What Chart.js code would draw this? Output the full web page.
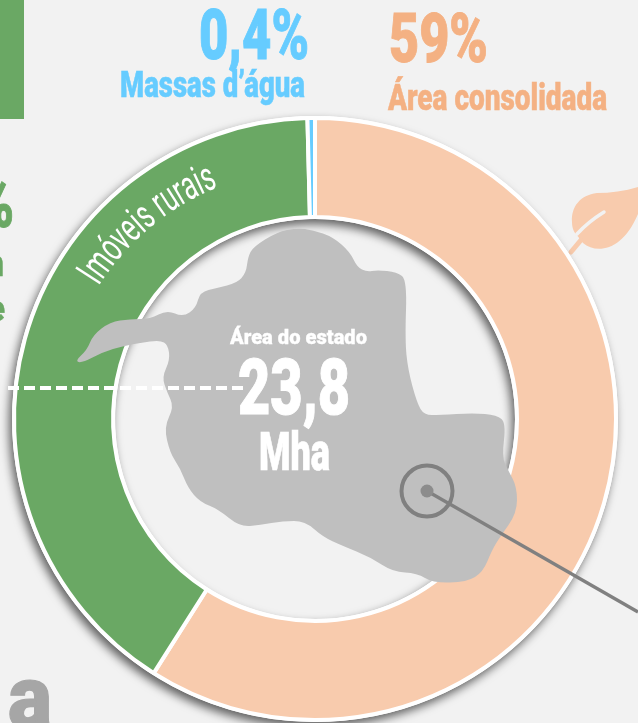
<!DOCTYPE html>
<html lang="pt">
<head>
<meta charset="utf-8">
<title>Área do estado</title>
<script src="https://cdn.jsdelivr.net/npm/chart.js@4/dist/chart.umd.min.js"></script>
<style>
    html, body { margin: 0; padding: 0; background: #f2f2f2; overflow: hidden; }
    #wrap { position: relative; width: 638px; height: 723px; overflow: hidden; }
    #chart, #labels { position: absolute; left: 0; top: 0; }
    text { font-family: Roboto, "Liberation Sans", sans-serif; font-weight: 900; }
</style>
</head>
<body>
<div id="wrap">
    <canvas id="chart" width="638" height="723"></canvas>
    <svg id="labels" width="638" height="723" xmlns="http://www.w3.org/2000/svg"></svg>
</div>
<script>
// data
const categories = ['Área consolidada', 'Imóveis rurais', 'Massas d’água'];
const shares = [59, 40.6, 0.4];
const shareLabels = ['59%', '41%', '0,4%'];
const stateLabel = 'Área do estado';
const stateArea = '23,8';
const stateUnit = 'Mha';

const BG = '#f2f2f2';
const ORANGE = '#f8cbad';
const ORANGE_TEXT = '#f4b183';
const GREEN = '#6aa864';
const BLUE = '#66ccff';

// outline of the state (decoration, not data)
const MAP_OUTLINE = [
    [75,361],[82,363],[103,352],[123,346],[140,343],[160,340],[168,345],[170,360],[162,377],[167,392],
    [174,407],[164,427],[170,453],[180,468],[188,488],[200,502],[218,509],[240,527],[260,525],[283,521],
    [305,521],[323,537],[343,546],[370,557],[393,572],[417,573],[433,583],[467,582],[483,572],[492,550],
    [500,537],[517,513],[517,487],[508,470],[502,457],[506,423],[497,415],[473,413],[440,415],[424,415],
    [417,403],[408,370],[405,340],[407,280],[397,272],[377,270],[367,272],[357,267],[350,252],[333,237],
    [313,230],[297,228],[277,232],[253,247],[248,257],[246,273],[237,283],[217,288],[200,292],[196,308],
    [183,317],[167,310],[150,319],[130,319],[110,322],[93,335],[87,350]
];

function smoothShape(ctx, pts) {
    ctx.beginPath();
    const n = pts.length;
    ctx.moveTo((pts[n - 1][0] + pts[0][0]) / 2, (pts[n - 1][1] + pts[0][1]) / 2);
    for (let i = 0; i < n; i++) {
        const next = pts[(i + 1) % n];
        ctx.quadraticCurveTo(pts[i][0], pts[i][1], (pts[i][0] + next[0]) / 2, (pts[i][1] + next[1]) / 2);
    }
    ctx.closePath();
}

function drawLeaf(ctx) {
    ctx.fillStyle = ORANGE;
    ctx.beginPath();
    ctx.moveTo(638, 187);
    ctx.bezierCurveTo(625, 191, 610, 193, 597, 193);
    ctx.bezierCurveTo(580, 195, 571, 207, 572, 222);
    ctx.bezierCurveTo(572, 228, 574, 232, 576, 234);
    ctx.lineTo(583, 243);
    ctx.bezierCurveTo(596, 254, 622, 252, 638, 214);
    ctx.closePath();
    ctx.fill();
    ctx.lineCap = 'round';
    ctx.strokeStyle = BG;
    ctx.lineWidth = 3.5;
    ctx.beginPath();
    ctx.moveTo(577, 234);
    ctx.quadraticCurveTo(588, 222, 604, 212);
    ctx.stroke();
    ctx.strokeStyle = ORANGE;
    ctx.lineWidth = 5;
    ctx.beginPath();
    ctx.moveTo(571, 252);
    ctx.lineTo(581, 240);
    ctx.stroke();
}

// white ring with the soft shadow, sits under the slices
const ringShadow = {
    id: 'ringShadow',
    beforeDatasetsDraw(chart) {
        const ctx = chart.ctx;
        const arc = chart.getDatasetMeta(0).data[0];
        ctx.save();
        ctx.fillStyle = GREEN;
        ctx.fillRect(0, 0, 24, 119);
        drawLeaf(ctx);
        ctx.shadowColor = 'rgba(0,0,0,0.6)';
        ctx.shadowBlur = 10;
        ctx.shadowOffsetX = -3;
        ctx.shadowOffsetY = 5;
        ctx.fillStyle = '#fff';
        ctx.beginPath();
        ctx.arc(arc.x, arc.y, arc.outerRadius + 2, 0, Math.PI * 2);
        ctx.arc(arc.x, arc.y, arc.innerRadius - 2, 0, Math.PI * 2, true);
        ctx.fill('evenodd');
        ctx.restore();
    }
};

// map, dashed rule and locator go over the ring
const overlays = {
    id: 'overlays',
    afterDatasetsDraw(chart) {
        const ctx = chart.ctx;
        ctx.save();
        ctx.fillStyle = '#bfbfbf';
        smoothShape(ctx, MAP_OUTLINE);
        ctx.fill();

        ctx.strokeStyle = '#fff';
        ctx.lineWidth = 4;
        ctx.setLineDash([11, 5]);
        ctx.beginPath();
        ctx.moveTo(8, 388);
        ctx.lineTo(245, 388);
        ctx.stroke();
        ctx.setLineDash([]);

        ctx.strokeStyle = '#808080';
        ctx.lineWidth = 4;
        ctx.beginPath();
        ctx.arc(427, 491, 25.5, 0, Math.PI * 2);
        ctx.stroke();
        ctx.lineWidth = 3.3;
        ctx.beginPath();
        ctx.moveTo(427, 491);
        ctx.lineTo(638, 612);
        ctx.stroke();
        ctx.fillStyle = '#8c8c8c';
        ctx.beginPath();
        ctx.arc(427, 491, 6.5, 0, Math.PI * 2);
        ctx.fill();
        ctx.restore();
    }
};

new Chart(document.getElementById('chart'), {
    type: 'doughnut',
    data: {
        labels: categories,
        datasets: [{
            data: shares,
            backgroundColor: [ORANGE, GREEN, BLUE],
            borderColor: '#fff',
            borderWidth: 4
        }]
    },
    options: {
        responsive: false,
        animation: false,
        cutout: '67.1%',
        layout: { padding: { left: 12, right: 20, top: 116, bottom: 1 } },
        plugins: { legend: { display: false }, tooltip: { enabled: false } }
    },
    plugins: [ringShadow, overlays]
});

// text overlay
const svg = document.getElementById('labels');
const NS = 'http://www.w3.org/2000/svg';

function addText(str, x, y, width, size, color) {
    const t = document.createElementNS(NS, 'text');
    t.setAttribute('x', x);
    t.setAttribute('y', y);
    t.setAttribute('font-size', size);
    t.setAttribute('fill', color);
    t.setAttribute('stroke', color);
    t.setAttribute('stroke-width', size * 0.014);
    t.setAttribute('textLength', width);
    t.setAttribute('lengthAdjust', 'spacingAndGlyphs');
    t.textContent = str;
    svg.appendChild(t);
}

addText(shareLabels[2], 199, 59, 110, 70, BLUE);
addText(categories[2], 120, 97, 185, 37, BLUE);
addText(shareLabels[0], 389, 62, 99, 68, ORANGE_TEXT);
addText(categories[0], 388, 110, 219, 37, ORANGE_TEXT);
addText(shareLabels[1], -84, 227, 98, 70, GREEN);
addText('n', -16, 276, 20, 37, GREEN);
addText('e', -15, 321, 20, 37, GREEN);
addText('a', 8, 727, 44, 88, '#a6a6a6');
addText(stateLabel, 230, 344, 137, 21, '#fff');
addText(stateArea, 238, 414, 112, 78, '#fff');
addText(stateUnit, 259, 470, 71, 53, '#fff');

// curved label on the green slice
const defs = document.createElementNS(NS, 'defs');
const path = document.createElementNS(NS, 'path');
path.setAttribute('id', 'arcPath');
path.setAttribute('d', 'M 98.6 286.2 A 252 252 0 0 1 219.6 186.4');
defs.appendChild(path);
svg.appendChild(defs);

const curved = document.createElementNS(NS, 'text');
curved.setAttribute('font-size', 41);
curved.setAttribute('fill', '#fff');
curved.style.fontWeight = 400;
const tp = document.createElementNS(NS, 'textPath');
tp.setAttribute('href', '#arcPath');
tp.setAttribute('textLength', 158);
tp.setAttribute('lengthAdjust', 'spacingAndGlyphs');
tp.textContent = categories[1];
curved.appendChild(tp);
svg.appendChild(curved);
</script>
</body>
</html>
